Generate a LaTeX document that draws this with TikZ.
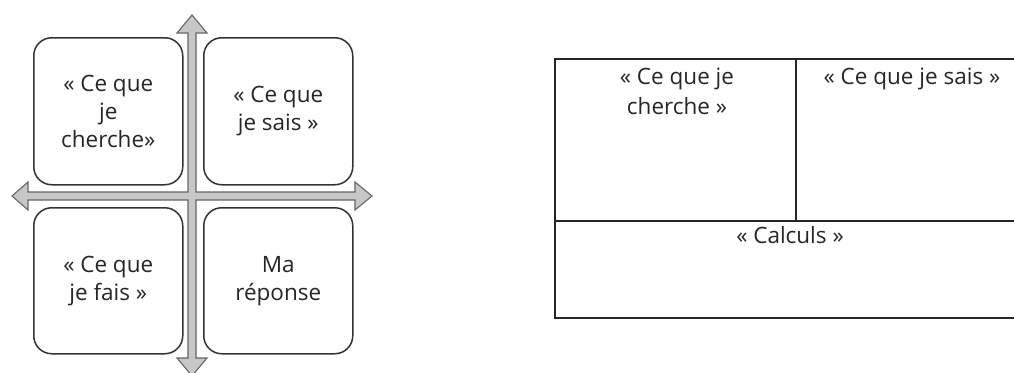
\documentclass[tikz,border=0pt]{standalone}
\usepackage{fontspec}
\setmainfont{Open Sans}
\begin{document}
\begin{tikzpicture}[x=1pt,y=-1pt,
  qbox/.style={draw=black!80, line width=1.5pt, rounded corners=18pt, fill=white,
    minimum width=149pt, minimum height=147pt, inner sep=0pt, anchor=north west},
  qtext/.style={align=center, font=\fontsize{22.5}{28}\selectfont, text=black!85},
  ttext/.style={align=center, font=\fontsize{22.5}{30}\selectfont, text=black!85, anchor=north},
  tline/.style={draw=black!85, line width=1.4pt}]
\useasboundingbox (0,0) rectangle (1014,372);
% cross arrows
\path[draw=black!60, fill=black!22, line width=1.1pt, line join=miter]
  (192,15) -- (207,33) -- (196,33) -- (196,192) -- (355,192) -- (355,182) -- (372,196)
  -- (355,210) -- (355,200) -- (196,200) -- (196,358) -- (207,358) -- (192,376)
  -- (177,358) -- (188,358) -- (188,200) -- (28,200) -- (28,210) -- (12,196)
  -- (28,182) -- (28,192) -- (188,192) -- (188,33) -- (177,33) -- cycle;
% boxes
\node[qbox] (tl) at (33,37) {};
\node[qbox] (tr) at (203,37) {};
\node[qbox, minimum height=146pt] (bl) at (33,207) {};
\node[qbox, minimum height=146pt] (br) at (203,207) {};
\node[qtext] (tlt) at (tl.center) {« Ce que\\je\\cherche»};
\node[qtext] (trt) at (tr.center) {« Ce que\\je sais »};
\node[qtext] (blt) at (bl.center) {« Ce que\\je fais »};
\node[qtext] (brt) at (br.center) {Ma\\réponse};
% table
\coordinate (a) at (1016,59);
\coordinate (b) at (555,59);
\coordinate (c) at (555,318);
\coordinate (d) at (1016,318);
\coordinate (m1) at (555,221);
\coordinate (m2) at (1016,221);
\coordinate (v1) at (796,59);
\coordinate (v2) at (796,221);
\draw[tline] (a) -- (b) -- (c) -- (d);
\draw[tline] (m1) -- (m2);
\draw[tline] (v1) -- (v2);
\node[ttext] (c1) at (677,64) {« Ce que je\\cherche »};
\node[ttext] (c2) at (912,64) {« Ce que je sais »};
\node[ttext] (c3) at (790,223) {« Calculs »};
\end{tikzpicture}
\end{document}
